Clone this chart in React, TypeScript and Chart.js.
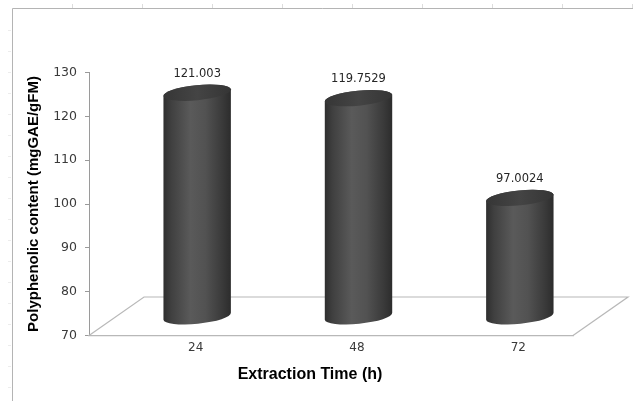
import { useEffect, useRef } from "react";
import { Chart, registerables } from "chart.js";

Chart.register(...registerables);

// Extraction time categories (hours) and polyphenolic content per time point
const categories = ["24", "48", "72"];
const polyphenols = [121.003, 119.7529, 97.0024];

// Value axis range and step
const yMin = 70;
const yMax = 130;
const yStep = 10;

const yTitle = "Polyphenolic content (mgGAE/gFM)";
const xTitle = "Extraction Time (h)";

// Oblique projection of the floor (depth offset in pixels)
const DEPTH_X = 55;
const DEPTH_Y = 38.5;

const TICK_FONT = "DejaVu Sans";
const TITLE_FONT = "Liberation Sans";

const framePlugin = {
  id: "frame",
  beforeDraw(chart: any) {
    const { ctx, width, height } = chart;
    ctx.save();
    ctx.fillStyle = "#ffffff";
    ctx.fillRect(0, 0, width, height);
    // faint sheet ruler marks
    ctx.strokeStyle = "#dcdcdc";
    ctx.lineWidth = 1;
    ctx.beginPath();
    for (let x = 72; x < width; x += 70) {
      ctx.moveTo(x + 0.5, 4);
      ctx.lineTo(x + 0.5, 8);
    }
    ctx.stroke();
    ctx.strokeStyle = "#ececec";
    ctx.beginPath();
    for (let y = 30; y < height; y += 21) {
      ctx.moveTo(8, y + 0.5);
      ctx.lineTo(11, y + 0.5);
    }
    ctx.stroke();
    // outer frame (top and left edges)
    ctx.strokeStyle = "#b4b4b4";
    ctx.beginPath();
    ctx.moveTo(12.5, height);
    ctx.lineTo(12.5, 8.5);
    ctx.lineTo(width, 8.5);
    ctx.stroke();
    ctx.restore();
  },
};

const floorPlugin = {
  id: "floor",
  beforeDatasetsDraw(chart: any) {
    const { ctx, chartArea } = chart;
    const { left, right, bottom } = chartArea;
    ctx.save();
    ctx.strokeStyle = "#b8b8b8";
    ctx.lineWidth = 1.2;
    ctx.beginPath();
    ctx.moveTo(left, bottom);
    ctx.lineTo(left + DEPTH_X, bottom - DEPTH_Y);
    ctx.lineTo(right + DEPTH_X, bottom - DEPTH_Y);
    ctx.lineTo(right, bottom);
    ctx.stroke();
    ctx.restore();
  },
};

const cylinderPlugin = {
  id: "cylinders",
  afterDatasetsDraw(chart: any) {
    const { ctx, chartArea } = chart;
    const yScale = chart.scales.y;
    const meta = chart.getDatasetMeta(0);
    const values = chart.data.datasets[0].data as number[];
    const catWidth = (chartArea.right - chartArea.left) / values.length;
    const rx = catWidth * 0.21;
    const ry = 7.5;
    const rot = -0.1;
    const base = yScale.getPixelForValue(yScale.min) - DEPTH_Y / 2;

    ctx.save();
    values.forEach((v, i) => {
      const cx = meta.data[i].x + DEPTH_X / 2;
      const top = yScale.getPixelForValue(v) - DEPTH_Y / 2;

      const grad = ctx.createLinearGradient(cx - rx, 0, cx + rx, 0);
      grad.addColorStop(0, "#2e2e2e");
      grad.addColorStop(0.12, "#404040");
      grad.addColorStop(0.4, "#5a5a5a");
      grad.addColorStop(0.62, "#525252");
      grad.addColorStop(0.87, "#3a3a3a");
      grad.addColorStop(1, "#2c2c2c");

      // side of the cylinder
      ctx.beginPath();
      ctx.ellipse(cx, top, rx, ry, rot, Math.PI, 2 * Math.PI, false);
      ctx.lineTo(cx + rx * Math.cos(rot), base + rx * Math.sin(rot));
      ctx.ellipse(cx, base, rx, ry, rot, 0, Math.PI, false);
      ctx.closePath();
      ctx.fillStyle = grad;
      ctx.fill();

      // top face
      const topGrad = ctx.createLinearGradient(cx - rx, 0, cx + rx, 0);
      topGrad.addColorStop(0, "#363636");
      topGrad.addColorStop(0.5, "#444444");
      topGrad.addColorStop(1, "#353535");
      ctx.beginPath();
      ctx.ellipse(cx, top, rx, ry, rot, 0, 2 * Math.PI);
      ctx.fillStyle = topGrad;
      ctx.fill();

      // value label
      ctx.fillStyle = "#262626";
      ctx.font = `11.5px "${TICK_FONT}"`;
      ctx.textAlign = "center";
      ctx.textBaseline = "middle";
      ctx.fillText(String(v), cx, top - 19);
    });

    // category axis title
    ctx.fillStyle = "#000000";
    ctx.font = `bold 16px "${TITLE_FONT}"`;
    ctx.textAlign = "center";
    ctx.textBaseline = "middle";
    ctx.fillText(xTitle, 310, 375);
    ctx.restore();
  },
};

export default function App() {
  const canvasRef = useRef<HTMLCanvasElement | null>(null);

  useEffect(() => {
    document.body.style.margin = "0";
    const canvas = canvasRef.current;
    if (!canvas) return;
    const chart = new Chart(canvas, {
      type: "bar",
      data: {
        labels: categories,
        datasets: [
          {
            data: polyphenols,
            backgroundColor: "rgba(0,0,0,0)",
            borderWidth: 0,
          },
        ],
      },
      options: {
        animation: false,
        responsive: false,
        devicePixelRatio: 1,
        events: [],
        layout: { padding: { left: 0, top: 72.5, right: 60, bottom: 0 } },
        plugins: {
          legend: { display: false },
          tooltip: { enabled: false },
        },
        scales: {
          x: {
            grid: { display: false, drawTicks: false },
            border: { display: true, color: "#b8b8b8", width: 1.2 },
            ticks: {
              color: "#3a3a3a",
              font: { family: TICK_FONT, size: 12 },
              padding: 5,
              labelOffset: 26,
            },
            afterFit(scale: any) {
              scale.height = 65.5;
            },
          },
          y: {
            min: yMin,
            max: yMax,
            grid: {
              display: true,
              drawOnChartArea: false,
              drawTicks: true,
              tickLength: 4,
              color: "#9a9a9a",
            },
            border: { display: true, color: "#9a9a9a" },
            ticks: {
              stepSize: yStep,
              color: "#3a3a3a",
              font: { family: TICK_FONT, size: 12.5 },
              padding: 8,
            },
            title: {
              display: true,
              text: yTitle,
              color: "#000000",
              font: { family: TITLE_FONT, size: 15, weight: "bold" },
              padding: { top: 25, bottom: 0 },
            },
            afterFit(scale: any) {
              scale.width = 89;
            },
          },
        },
      },
      plugins: [framePlugin, floorPlugin, cylinderPlugin],
    });
    return () => chart.destroy();
  }, []);

  return (
    <div style={{ position: "fixed", left: 0, top: 0, width: 633, height: 401 }}>
      <canvas ref={canvasRef} width={633} height={401} style={{ display: "block" }} />
    </div>
  );
}
